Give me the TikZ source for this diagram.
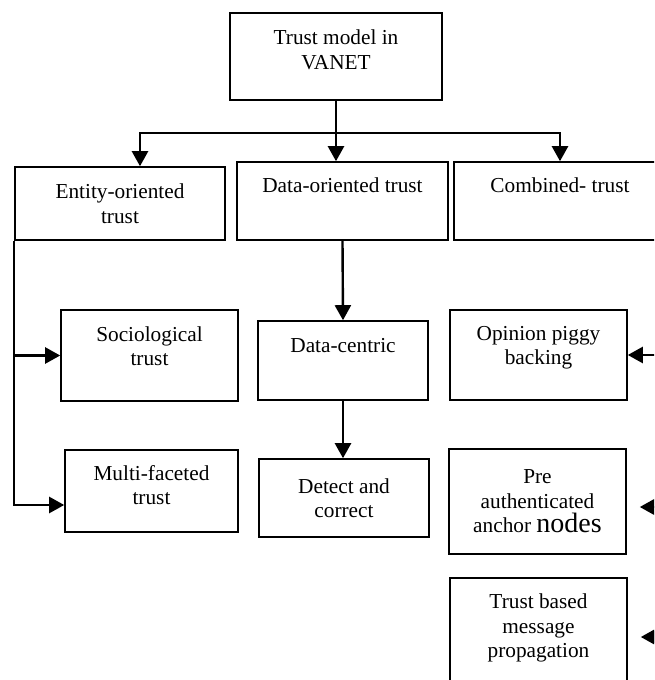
\documentclass[tikz,border=0pt]{standalone}
\usepackage{fontspec}
\setmainfont{Liberation Serif}
\usetikzlibrary{arrows.meta}
\newcommand{\lift}[1]{\rule[-#1]{0pt}{#1}}
\begin{document}
\begin{tikzpicture}[x=1pt,y=-1pt,
  box/.style={draw,line width=1.6pt,align=center,inner sep=0pt,
    font=\fontsize{21.3}{24.5}\selectfont},
  topbox/.style={box,text height=30pt,text depth=48pt},
  arr/.style={line width=2.4pt,-{Triangle[length=15pt,width=16pt]}}]
  \useasboundingbox (0,0) rectangle (654,680);
  \clip (0,0) rectangle (654,680);
  % Root and first level
  \node[box,minimum width=212pt,minimum height=87pt] (root) at (336,56.5) {Trust model in\\VANET\lift{14pt}};
  \node[box,minimum width=210pt,minimum height=73pt] (ent) at (120,203.5) {Entity-oriented\\trust};
  \node[topbox,minimum width=211pt] (dat) at (342.5,201) {Data-oriented trust};
  \node[topbox,minimum width=212pt] (com) at (560,201) {Combined- trust};
  % Entity column
  \node[box,minimum width=177pt,minimum height=91pt] (soc) at (149.5,355.5) {Sociological\\trust\lift{19pt}};
  \node[box,minimum width=173pt,minimum height=82pt] (mul) at (151.5,491) {Multi-faceted\\trust\lift{12pt}};
  % Data column
  \node[box,minimum width=170pt,text height=31pt,text depth=48pt] (dcen) at (343,360.5) {Data-centric};
  \node[box,minimum width=170pt,minimum height=78pt] (det) at (344,498) {Detect and\\correct};
  % Combined column
  \node[box,minimum width=177pt,minimum height=90pt] (opi) at (538.5,355) {Opinion piggy\\backing\lift{19pt}};
  \node[box,minimum width=177pt,minimum height=105pt] (pre) at (537.5,501.5) {Pre\\authenticated\\anchor {\fontsize{28}{24}\selectfont nodes}};
  \node[box,minimum width=177pt,minimum height=108pt] (tmp) at (538.5,632) {Trust based\\message\\propagation\lift{12pt}};
  % Connectors
  \coordinate (bus) at (333,133);
  \draw[arr] (root.south) -- (root.south |- dat.north);
  \draw[line width=2.4pt] (bus) -- (bus -| com.north);
  \draw[arr] (bus) -| ([xshift=20pt]ent.north);
  \draw[arr] (bus) -| (com.north);
  \draw[arr] (dat.south) -- (dcen.north);
  \draw[arr] (dcen.south) -- (dcen.south |- det.north);
  \draw[arr] (ent.south west) |- (soc.west);
  \draw[arr] (ent.south west) |- ([yshift=-14pt]mul.west);
  \coordinate (ropi) at (670,355);
  \coordinate (rpre) at (670,507);
  \coordinate (rtmp) at (670,637);
  \draw[arr] (ropi) -- (opi.east);
  \draw[arr] (rpre) -- ([xshift=13pt]pre.east |- rpre);
  \draw[arr] (rtmp) -- ([xshift=13pt]tmp.east |- rtmp);
\end{tikzpicture}
\end{document}
